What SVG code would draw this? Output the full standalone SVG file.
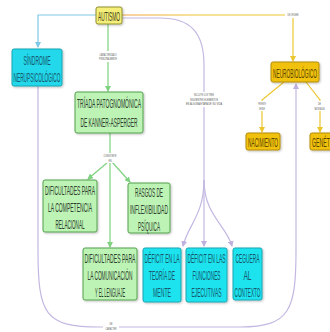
<svg xmlns="http://www.w3.org/2000/svg" width="330" height="332" viewBox="0 0 330 332">
<style>
.t{font-family:"Liberation Sans",Arial,sans-serif;font-size:13.5px;text-anchor:middle}
.s{font-family:"Liberation Sans",Arial,sans-serif;font-size:3.2px;text-anchor:middle;fill:#555}
.g rect{fill:#bdf3b4;stroke:#55a04e;stroke-width:1}
.g text{fill:#2c3d2c}
.c rect{fill:#1fe3ee;stroke:#1aa6b4;stroke-width:1}
.c text{fill:#17566b}
.y rect{fill:#f1c20f;stroke:#b38a05;stroke-width:1}
.y text{fill:#5a4300}
.lb{fill:#fff}
.e path{fill:none;stroke-width:1.2}
</style>
<defs>
<filter id="sh" x="-10%" y="-10%" width="130%" height="130%"><feDropShadow dx="1" dy="1" stdDeviation="0.8" flood-color="#000" flood-opacity="0.25"/></filter>
<marker id="ab" markerWidth="6" markerHeight="6" refX="5" refY="3" orient="auto" markerUnits="userSpaceOnUse"><path d="M0,0 L6,3 L0,6 Z" fill="#7ec8e8"/></marker>
<marker id="ag" markerWidth="6" markerHeight="6" refX="5" refY="3" orient="auto" markerUnits="userSpaceOnUse"><path d="M0,0 L6,3 L0,6 Z" fill="#7fd27f"/></marker>
<marker id="ay" markerWidth="6" markerHeight="6" refX="5" refY="3" orient="auto" markerUnits="userSpaceOnUse"><path d="M0,0 L6,3 L0,6 Z" fill="#ecc630"/></marker>
<marker id="ap" markerWidth="6" markerHeight="6" refX="5" refY="3" orient="auto" markerUnits="userSpaceOnUse"><path d="M0,0 L6,3 L0,6 Z" fill="#bfb0de"/></marker>
<linearGradient id="gy" gradientUnits="userSpaceOnUse" x1="122" y1="0" x2="200" y2="0"><stop offset="0" stop-color="#f0a040"/><stop offset="1" stop-color="#ecc630"/></linearGradient>
</defs>
<rect width="330" height="332" fill="#fff"/>
<g id="connectors" class="e">
<path d="M96,15 H38 V47" stroke="#7ec8e8" marker-end="url(#ab)"/>
<path d="M108,24 V91" stroke="#7fd27f" marker-end="url(#ag)"/>
<path d="M110,133 V247" stroke="#7fd27f" marker-end="url(#ag)"/>
<path d="M108,162 L88,179" stroke="#7fd27f" marker-end="url(#ag)"/>
<path d="M112,162 L130,182" stroke="#7fd27f" marker-end="url(#ag)"/>
<path d="M122,15 H293 V61" stroke="url(#gy)" marker-end="url(#ay)"/>
<path d="M284,82 L262,100 V132" stroke="#ecc630" marker-end="url(#ay)"/>
<path d="M306,82 L320,100 V132" stroke="#ecc630" marker-end="url(#ay)"/>
<path d="M38,86 V250 C38,315 45,327 100,327 H240 C290,327 296,310 296,250 V84" stroke="#c4b8e2" marker-end="url(#ap)"/>
<path d="M122,18 H160 C190,18 204,32 204,65 V180 C204,215 188,225 183,246" stroke="#c4b8e2" marker-end="url(#ap)"/>
<path d="M204,180 V246" stroke="#c4b8e2" marker-end="url(#ap)"/>
<path d="M204,180 C204,215 226,225 232,246" stroke="#c4b8e2" marker-end="url(#ap)"/>
<rect class="lb" x="98" y="51" width="21" height="11"/>
<text class="s" transform="translate(108,55.5) scale(.6,1)" textLength="28.3" lengthAdjust="spacingAndGlyphs">CARACTERIZADO</text>
<text class="s" transform="translate(108,60) scale(.6,1)" textLength="30" lengthAdjust="spacingAndGlyphs">PRINCIPALMENTE</text>
<rect class="lb" x="100" y="153" width="20" height="10"/>
<text class="s" transform="translate(110,157) scale(.6,1)" textLength="21.7" lengthAdjust="spacingAndGlyphs">CONSISTENTE</text>
<text class="s" transform="translate(110,161.5) scale(.6,1)" textLength="5" lengthAdjust="spacingAndGlyphs">EN</text>
<rect class="lb" x="285" y="12" width="17" height="6"/>
<text class="s" transform="translate(293,16.2) scale(.6,1)" textLength="18.3" lengthAdjust="spacingAndGlyphs">DE ORIGEN</text>
<rect class="lb" x="255" y="101" width="14" height="10"/>
<text class="s" transform="translate(262,105) scale(.6,1)" textLength="13.3" lengthAdjust="spacingAndGlyphs">PRESENTE</text>
<text class="s" transform="translate(262,109.5) scale(.6,1)" textLength="10" lengthAdjust="spacingAndGlyphs">DESDE</text>
<rect class="lb" x="313" y="101" width="14" height="10"/>
<text class="s" transform="translate(319.5,105) scale(.6,1)" textLength="5" lengthAdjust="spacingAndGlyphs">DE</text>
<text class="s" transform="translate(319.5,109.5) scale(.6,1)" textLength="16.7" lengthAdjust="spacingAndGlyphs">NATURALEZA</text>
<rect class="lb" x="184" y="92" width="40" height="15"/>
<text class="s" transform="translate(204,96) scale(.6,1)" textLength="33.3" lengthAdjust="spacingAndGlyphs">INCLUYE LOS TRES</text>
<text class="s" transform="translate(204,100.5) scale(.6,1)" textLength="46.7" lengthAdjust="spacingAndGlyphs">SIGUIENTES ELEMENTOS</text>
<text class="s" transform="translate(204,105) scale(.6,1)" textLength="60" lengthAdjust="spacingAndGlyphs">EN ALGUNA ETAPA DE SU VIDA</text>
<rect class="lb" x="103" y="321" width="16" height="10"/>
<text class="s" transform="translate(111,325) scale(.6,1)" textLength="5" lengthAdjust="spacingAndGlyphs">DE</text>
<text class="s" transform="translate(111,329.5) scale(.6,1)" textLength="18.3" lengthAdjust="spacingAndGlyphs">CARÁCTER</text>
</g>
<g id="autismo"><rect x="96" y="7" width="26" height="17" rx="2" fill="#f5ef7a" stroke="#8f8f30" filter="url(#sh)"/><text class="t" transform="translate(109,20.5) scale(.36,1)" fill="#3a3a10" textLength="61.1" lengthAdjust="spacingAndGlyphs">AUTISMO</text></g>
<g id="sindrome" class="c"><rect x="12" y="49" width="50" height="37" rx="2" style="fill:#20d8ea" filter="url(#sh)"/><text class="t" transform="translate(37,64.5) scale(.36,1)" textLength="75" lengthAdjust="spacingAndGlyphs">SÍNDROME</text><text class="t" transform="translate(37,82) scale(.36,1)" textLength="130.6" lengthAdjust="spacingAndGlyphs">NERUPSICOLÓGICO</text></g>
<g id="triada" class="g"><rect x="75" y="92" width="68" height="41" rx="2" filter="url(#sh)"/><text class="t" transform="translate(109,108) scale(.36,1)" textLength="177.8" lengthAdjust="spacingAndGlyphs">TRÍADA PATOGNOMÓNICA</text><text class="t" transform="translate(109,127) scale(.36,1)" textLength="158.3" lengthAdjust="spacingAndGlyphs">DE KANNER-ASPERGER</text></g>
<g id="competencia" class="g"><rect x="43" y="180" width="54" height="52" rx="2" filter="url(#sh)"/><text class="t" transform="translate(70,195) scale(.36,1)" textLength="138.9" lengthAdjust="spacingAndGlyphs">DIFICULTADES PARA</text><text class="t" transform="translate(70,212) scale(.36,1)" textLength="122.2" lengthAdjust="spacingAndGlyphs">LA COMPETENCIA</text><text class="t" transform="translate(70,229) scale(.36,1)" textLength="80.6" lengthAdjust="spacingAndGlyphs">RELACIONAL</text></g>
<g id="rasgos" class="g"><rect x="128" y="183" width="42" height="50" rx="2" filter="url(#sh)"/><text class="t" transform="translate(149,197) scale(.36,1)" textLength="77.8" lengthAdjust="spacingAndGlyphs">RASGOS DE</text><text class="t" transform="translate(149,214) scale(.36,1)" textLength="105.6" lengthAdjust="spacingAndGlyphs">INFLEXIBILIDAD</text><text class="t" transform="translate(149,230.5) scale(.36,1)" textLength="61.1" lengthAdjust="spacingAndGlyphs">PSÍQUICA</text></g>
<g id="comunicacion" class="g"><rect x="83" y="248" width="54" height="52" rx="2" filter="url(#sh)"/><text class="t" transform="translate(110,263) scale(.36,1)" textLength="141.7" lengthAdjust="spacingAndGlyphs">DIFICULTADES PARA</text><text class="t" transform="translate(110,280) scale(.36,1)" textLength="125" lengthAdjust="spacingAndGlyphs">LA COMUNICACIÓN</text><text class="t" transform="translate(110,297) scale(.36,1)" textLength="83.3" lengthAdjust="spacingAndGlyphs">Y EL LENGUAJE</text></g>
<g id="teoria" class="c"><rect x="143" y="248" width="38" height="54" rx="2" filter="url(#sh)"/><text class="t" transform="translate(162,263) scale(.36,1)" textLength="97.2" lengthAdjust="spacingAndGlyphs">DÉFICIT EN LA</text><text class="t" transform="translate(162,280) scale(.36,1)" textLength="72.2" lengthAdjust="spacingAndGlyphs">TEORÍA DE</text><text class="t" transform="translate(162,297) scale(.36,1)" textLength="50" lengthAdjust="spacingAndGlyphs">MENTE</text></g>
<g id="funciones" class="c"><rect x="186" y="248" width="41" height="54" rx="2" filter="url(#sh)"/><text class="t" transform="translate(206.5,263) scale(.36,1)" textLength="105.6" lengthAdjust="spacingAndGlyphs">DÉFICIT EN LAS</text><text class="t" transform="translate(206.5,280) scale(.36,1)" textLength="77.8" lengthAdjust="spacingAndGlyphs">FUNCIONES</text><text class="t" transform="translate(206.5,297) scale(.36,1)" textLength="83.3" lengthAdjust="spacingAndGlyphs">EJECUTIVAS</text></g>
<g id="ceguera" class="c"><rect x="233" y="248" width="29" height="52" rx="2" filter="url(#sh)"/><text class="t" transform="translate(247.5,263) scale(.36,1)" textLength="66.7" lengthAdjust="spacingAndGlyphs">CEGUERA</text><text class="t" transform="translate(247.5,280) scale(.36,1)" textLength="22.2" lengthAdjust="spacingAndGlyphs">AL</text><text class="t" transform="translate(247.5,297) scale(.36,1)" textLength="72.2" lengthAdjust="spacingAndGlyphs">CONTEXTO</text></g>
<g id="neurobiologico" class="y"><rect x="271" y="62" width="48" height="20" rx="2" filter="url(#sh)"/><text class="t" transform="translate(295,77.5) scale(.36,1)" textLength="122.2" lengthAdjust="spacingAndGlyphs">NEUROBIOLÓGICO</text></g>
<g id="nacimiento" class="y"><rect x="246" y="133" width="34" height="17" rx="2" filter="url(#sh)"/><text class="t" transform="translate(263,146.5) scale(.36,1)" textLength="83.3" lengthAdjust="spacingAndGlyphs">NACIMIENTO</text></g>
<g id="genetico" class="y"><rect x="310" y="133" width="30" height="17" rx="2" filter="url(#sh)"/><text class="t" transform="translate(312,146.5) scale(.36,1)" style="text-anchor:start" textLength="75" lengthAdjust="spacingAndGlyphs">GENÉTICO</text></g>
</svg>
